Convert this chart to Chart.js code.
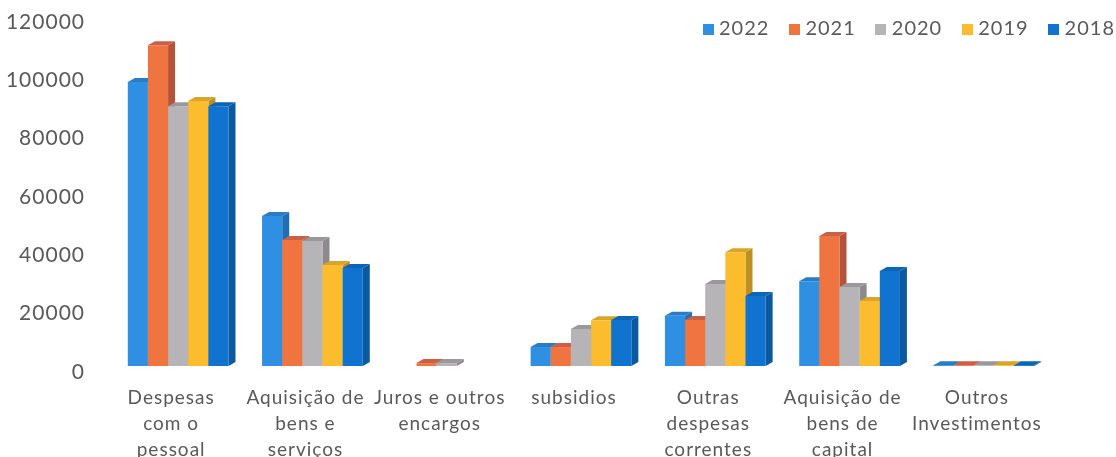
<!DOCTYPE html>
<html>
<head>
<meta charset="utf-8">
<style>
    html, body { margin: 0; padding: 0; background: #fff; }
    #box { width: 1116px; height: 457px; }
</style>
</head>
<body>
<div id="box"><canvas id="myChart" width="1116" height="457"></canvas></div>
<script src="https://cdn.jsdelivr.net/npm/chart.js@4"></script>
<script>
const categories = [
    ['Despesas', 'com o', 'pessoal'],
    ['Aquisição de', 'bens e', 'serviços'],
    ['Juros e outros', 'encargos'],
    ['subsidios'],
    ['Outras', 'despesas', 'correntes'],
    ['Aquisição de', 'bens de', 'capital'],
    ['Outros', 'Investimentos']
];
const years = ['2022', '2021', '2020', '2019', '2018'];
const values2022 = [97400, 51400, 0, 6500, 17200, 29100, 300];
const values2021 = [110000, 43200, 1000, 6500, 15800, 44600, 300];
const values2020 = [89100, 42900, 1000, 12700, 28100, 27100, 300];
const values2019 = [90900, 34600, 0, 15700, 39000, 22300, 300];
const values2018 = [89100, 33600, 0, 15800, 24000, 32600, 300];
const seriesValues = [values2022, values2021, values2020, values2019, values2018];

const frontColors = ['#2f8fe2', '#f0743f', '#b6b4b6', '#fbbd2e', '#0f73cf'];
const sideColors = ['#1f6fb5', '#b5533a', '#8c8a8c', '#bf8f22', '#0b5a9f'];
const capColors = ['#2a7cc4', '#c9604a', '#9a989a', '#d8a528', '#0d65b5'];

const textColor = '#595959';
const fontFamily = 'Lato, sans-serif';
const depthX = 7;
const depthY = 4;
const plotTop = 16;
const plotBottom = 366;

// legend squares sit closer to the text than boxWidth allows
const legendSquare = (color) => {
    const c = document.createElement('canvas');
    c.width = 11;
    c.height = 11;
    const g = c.getContext('2d');
    g.fillStyle = color;
    g.fillRect(0, 0, 11, 11);
    return c;
};

// front faces are the chart's own bars, this adds the side and the top
const drawBar3d = (ctx, bar, i) => {
    const { x, y, base, width } = bar.getProps(['x', 'y', 'base', 'width'], true);
    const right = x + width / 2;
    const left = x - width / 2;
    if (base - y < 0.5) return;

    ctx.fillStyle = sideColors[i];
    ctx.beginPath();
    ctx.moveTo(right, base);
    ctx.lineTo(right + depthX, base - depthY);
    ctx.lineTo(right + depthX, y - depthY);
    ctx.lineTo(right, y);
    ctx.closePath();
    ctx.fill();

    ctx.fillStyle = capColors[i];
    ctx.beginPath();
    ctx.moveTo(left, y);
    ctx.lineTo(left + depthX, y - depthY);
    ctx.lineTo(right + depthX, y - depthY);
    ctx.lineTo(right, y);
    ctx.closePath();
    ctx.fill();

    bar.draw(ctx);
};

const bars3d = {
    id: 'bars3d',
    beforeInit(chart) {
        // legend floats over the plot, it should not push it down
        const fit = chart.legend.fit;
        chart.legend.fit = function () {
            fit.call(this);
            this.height = 0;
        };
    },
    beforeLayout(chart) {
        chart.ctx.letterSpacing = '1px';
    },
    afterLayout(chart) {
        const y = chart.scales.y;
        y.top = plotTop;
        y.bottom = plotBottom;
        y.height = plotBottom - plotTop;
        y.configure();
        chart.chartArea.top = plotTop;
        chart.chartArea.height = plotBottom - plotTop;
    },
    beforeDraw(chart) {
        chart.ctx.letterSpacing = '1px';
        chart.legend.top = -5;
        chart.legend.bottom = 60;
        chart.legend.right = 1139;
    },
    beforeDatasetsDraw(chart) {
        const ctx = chart.ctx;
        ctx.save();
        seriesValues.forEach((values, i) => {
            chart.getDatasetMeta(i).data.forEach((bar) => drawBar3d(ctx, bar, i));
        });
        ctx.restore();
        return false;
    }
};

const ctx = document.getElementById('myChart').getContext('2d');
const myChart = new Chart(ctx, {
    type: 'bar',
    data: {
        labels: categories,
        datasets: years.map((year, i) => ({
            label: year,
            data: seriesValues[i],
            backgroundColor: frontColors[i],
            borderWidth: 0,
            barPercentage: 1,
            categoryPercentage: 0.75
        }))
    },
    plugins: [bars3d],
    options: {
        responsive: false,
        animation: false,
        layout: { autoPadding: false, padding: { top: 0, right: 65, left: 0, bottom: 0 } },
        scales: {
            x: {
                grid: { display: false },
                border: { display: false },
                afterFit: (scale) => { scale.height = 91; },
                ticks: {
                    color: textColor,
                    padding: 11,
                    labelOffset: -7,
                    autoSkip: false,
                    maxRotation: 0,
                    font: { family: fontFamily, size: 19, lineHeight: 1.37 }
                }
            },
            y: {
                min: 0,
                max: 120000,
                grid: { display: false },
                border: { display: false },
                afterFit: (scale) => { scale.width = 111; },
                ticks: {
                    stepSize: 20000,
                    color: textColor,
                    padding: 18,
                    labelOffset: 6,
                    callback: (value) => String(value),
                    font: { family: fontFamily, size: 21 }
                }
            }
        },
        plugins: {
            tooltip: { enabled: false },
            legend: {
                position: 'top',
                align: 'end',
                labels: {
                    color: textColor,
                    usePointStyle: true,
                    pointStyleWidth: 2,
                    boxHeight: 11,
                    padding: 24,
                    font: { family: fontFamily, size: 20 },
                    generateLabels: () => years.map((year, i) => ({
                        text: year,
                        fontColor: textColor,
                        pointStyle: legendSquare(frontColors[i]),
                        datasetIndex: i,
                        lineWidth: 0
                    }))
                }
            }
        }
    }
});
</script>
</body>
</html>
